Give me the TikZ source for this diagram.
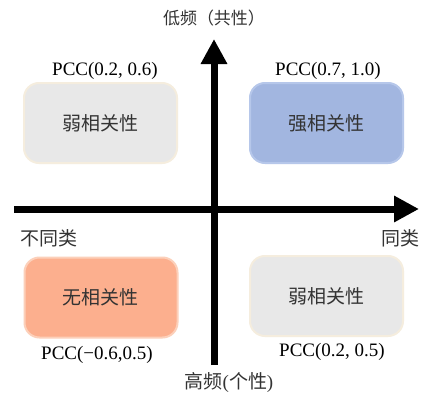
\documentclass[tikz,border=0pt]{standalone}
\usepackage{fontspec}
\setmainfont{Liberation Serif}
\newfontfamily\cjk{Noto Sans CJK SC}
\usetikzlibrary{arrows.meta}
\definecolor{grayfill}{HTML}{E8E8E8}
\definecolor{grayedge}{HTML}{F5EDDE}
\definecolor{bluefill}{HTML}{A2B6E0}
\definecolor{blueedge}{HTML}{B6C7EA}
\definecolor{salfill}{HTML}{FCAF8E}
\definecolor{saledge}{HTML}{FCD0BA}
\definecolor{cjktext}{HTML}{333333}
\begin{document}
\begin{tikzpicture}[x=1pt,y=-1pt,
  quad/.style={rounded corners=15pt, minimum width=153pt, minimum height=80pt,
    line width=2pt, inner sep=0pt, font=\cjk\fontsize{19}{22}\selectfont, text=cjktext},
  graybox/.style={quad, fill=grayfill, draw=grayedge},
  bluebox/.style={quad, fill=bluefill, draw=blueedge},
  salbox/.style={quad, fill=salfill, draw=saledge},
  pcc/.style={font=\fontsize{19}{22}\selectfont, inner sep=0pt},
  axlabel/.style={font=\cjk\fontsize{19}{22}\selectfont, text=cjktext, inner sep=0pt},
  axis/.style={line width=7pt, -{Triangle[length=25pt,width=25pt]}}
]
\useasboundingbox (0,0) rectangle (424,399);
\fill[white] (0,0) rectangle (424,399);
% boxes
\node[graybox] (tl) at (100.5,123) {弱相关性};
\node[bluebox] (tr) at (326.5,123) {强相关性};
\node[salbox]  (bl) at (101,297.5) {无相关性};
\node[graybox] (br) at (326.5,296) {弱相关性};
% axes
\coordinate (vb) at (214,365);
\coordinate (vt) at (214,39);
\coordinate (hl) at (14,209);
\coordinate (hr) at (419,209);
\draw[axis] (hl) -- (hr);
\draw[axis] (vb) -- (vt);
% labels
\node[axlabel, font=\cjk\fontsize{17}{20}\selectfont] (top) at (214,18) {低频（共性）};
\node[axlabel] (bot) at (229,383) {高频\textrm{(}个性\textrm{)}};
\node[axlabel] (left) at (49,238) {不同类};
\node[axlabel] (right) at (400,238) {同类};
\node[pcc] (p1) at (105,71) {PCC(0.2, 0.6)};
\node[pcc] (p2) at (328,71) {PCC(0.7, 1.0)};
\node[pcc] (p3) at (97,355) {PCC(−0.6,0.5)};
\node[pcc] (p4) at (332,352) {PCC(0.2, 0.5)};
\end{tikzpicture}
\end{document}
